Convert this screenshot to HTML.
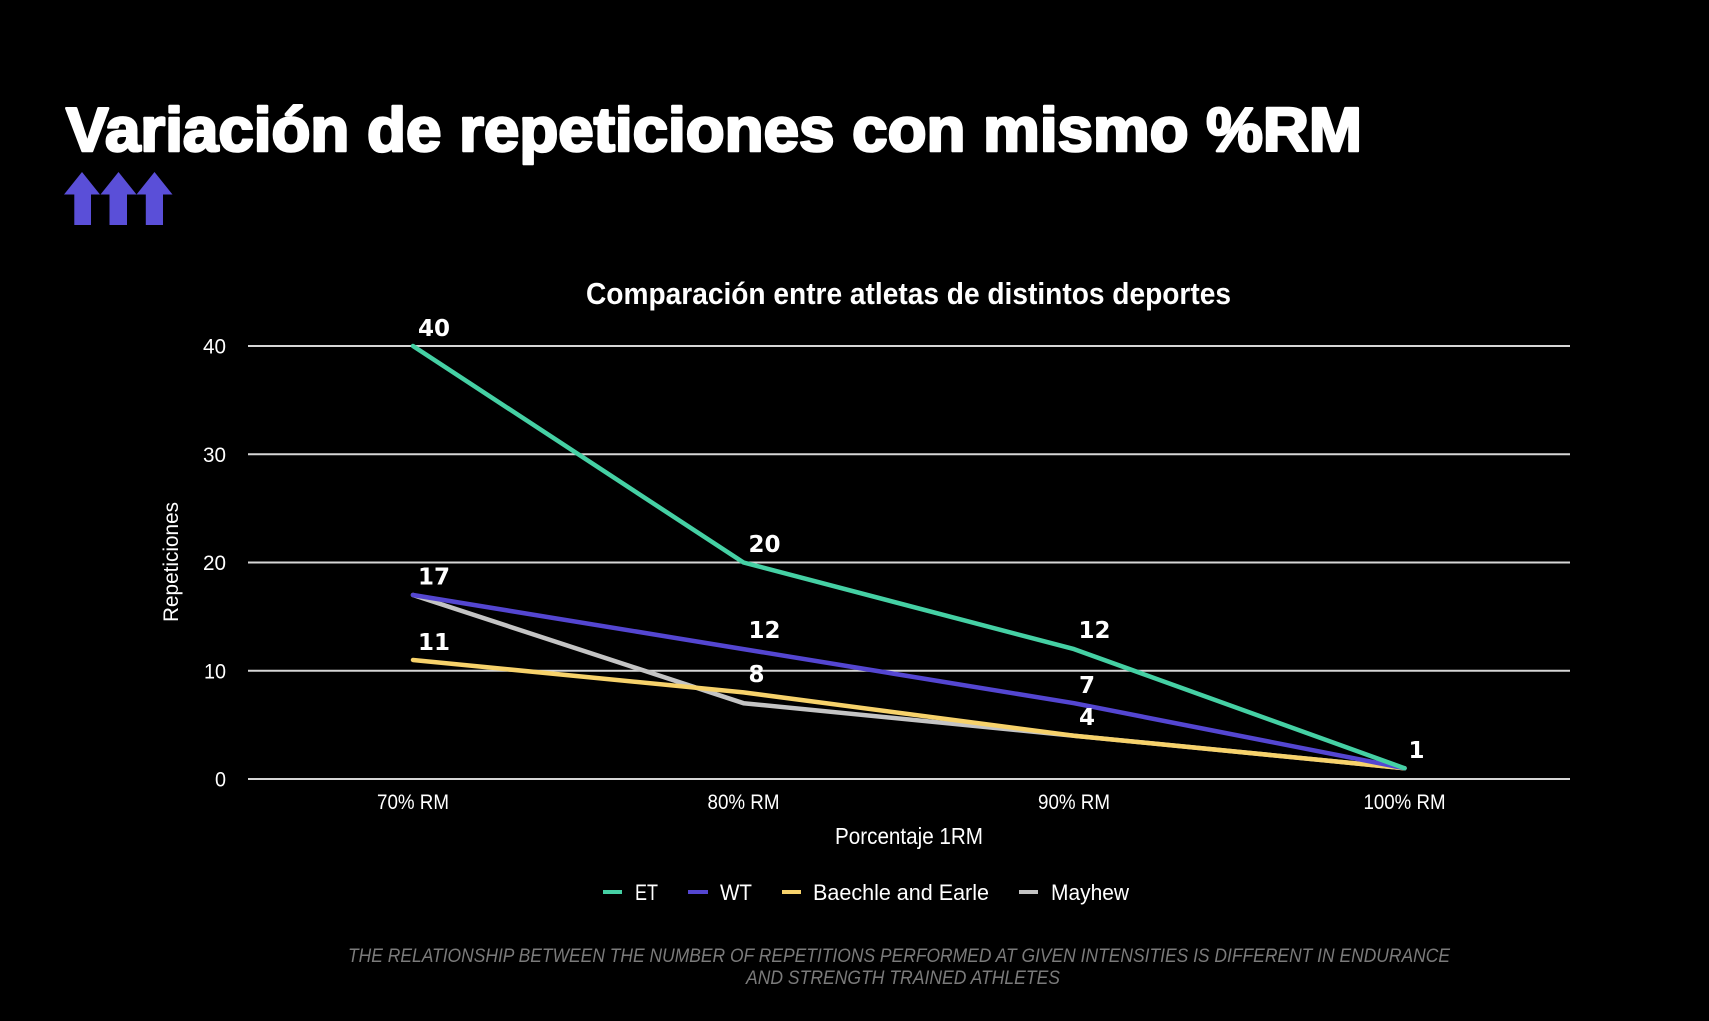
<!DOCTYPE html>
<html>
<head>
<meta charset="utf-8">
<style>
  html, body { margin: 0; padding: 0; background: #000; }
  body { width: 1709px; height: 1021px; overflow: hidden; }
  svg { display: block; }
</style>
</head>
<body>
<svg width="1709" height="1021" viewBox="0 0 1709 1021" xmlns="http://www.w3.org/2000/svg">
  <rect x="0" y="0" width="1709" height="1021" fill="#000"/>

  <!-- Main title -->
  <text x="66" y="151" font-family="'Liberation Sans', Arial, sans-serif" font-weight="bold" font-size="62" fill="#fff" stroke="#fff" stroke-width="2.6" stroke-linejoin="round" textLength="1296" lengthAdjust="spacingAndGlyphs">Variación de repeticiones con mismo %RM</text>

  <!-- Arrows -->
  <g fill="#5a4fd8">
    <polygon points="64,194.5 82,172 100,194.5 91,194.5 91,225 74.3,225 74.3,194.5"/>
    <polygon points="100.5,194.5 118.5,172 136.5,194.5 127,194.5 127,225 109.5,225 109.5,194.5"/>
    <polygon points="136.5,194.5 154.5,172 172.5,194.5 163,194.5 163,225 145.8,225 145.8,194.5"/>
  </g>

  <!-- Chart title -->
  <text x="586" y="304" font-family="'Liberation Sans', Arial, sans-serif" font-weight="bold" font-size="31" fill="#fff" textLength="645" lengthAdjust="spacingAndGlyphs">Comparación entre atletas de distintos deportes</text>

  <!-- Gridlines -->
  <g stroke="#d6d6d6" stroke-width="2">
    <line x1="248" y1="346" x2="1570" y2="346"/>
    <line x1="248" y1="454.3" x2="1570" y2="454.3"/>
    <line x1="248" y1="562.5" x2="1570" y2="562.5"/>
    <line x1="248" y1="670.8" x2="1570" y2="670.8"/>
    <line x1="248" y1="779" x2="1570" y2="779"/>
  </g>

  <!-- Y tick labels -->
  <g font-family="'Liberation Sans', Arial, sans-serif" font-size="21" fill="#fff" text-anchor="end">
    <text x="226" y="353.5" textLength="23" lengthAdjust="spacingAndGlyphs">40</text>
    <text x="226" y="461.8" textLength="23" lengthAdjust="spacingAndGlyphs">30</text>
    <text x="226" y="570" textLength="23" lengthAdjust="spacingAndGlyphs">20</text>
    <text x="226" y="678.3" textLength="22" lengthAdjust="spacingAndGlyphs">10</text>
    <text x="226" y="786.5" textLength="11" lengthAdjust="spacingAndGlyphs">0</text>
  </g>

  <!-- Y axis title -->
  <text transform="translate(178,562) rotate(-90)" x="0" y="0" text-anchor="middle" font-family="'Liberation Sans', Arial, sans-serif" font-size="21" fill="#fff" textLength="120" lengthAdjust="spacingAndGlyphs">Repeticiones</text>

  <!-- X tick labels -->
  <g font-family="'Liberation Sans', Arial, sans-serif" font-size="21" fill="#fff" text-anchor="middle">
    <text x="413" y="809" textLength="72" lengthAdjust="spacingAndGlyphs">70% RM</text>
    <text x="743.5" y="809" textLength="72" lengthAdjust="spacingAndGlyphs">80% RM</text>
    <text x="1074" y="809" textLength="72" lengthAdjust="spacingAndGlyphs">90% RM</text>
    <text x="1404.5" y="809" textLength="82" lengthAdjust="spacingAndGlyphs">100% RM</text>
  </g>

  <!-- X axis title -->
  <text x="835" y="844" font-family="'Liberation Sans', Arial, sans-serif" font-size="23" fill="#fff" textLength="148" lengthAdjust="spacingAndGlyphs">Porcentaje 1RM</text>

  <!-- Series (drawn reversed so ET on top) -->
  <g fill="none" stroke-width="4.5" stroke-linejoin="round" stroke-linecap="round">
    <polyline stroke="#c4c4c4" points="413,595 743.5,703.2 1074,735.7 1404.5,768.2"/>
    <polyline stroke="#f7d26b" points="413,660 743.5,692.4 1074,735.7 1404.5,768.2"/>
    <polyline stroke="#5446d1" points="413,595 743.5,649.1 1074,703.2 1404.5,768.2"/>
    <polyline stroke="#45d0a4" points="413,346 743.5,562.5 1074,649.1 1404.5,768.2"/>
  </g>

  <!-- Data labels -->
  <g font-family="'DejaVu Sans', 'Liberation Sans', sans-serif" font-weight="bold" font-size="23" fill="#fff">
    <text x="418" y="336">40</text>
    <text x="418" y="584.5">17</text>
    <text x="418" y="650">11</text>
    <text x="748.5" y="552">20</text>
    <text x="748.5" y="638">12</text>
    <text x="748.5" y="682">8</text>
    <text x="1078.5" y="638">12</text>
    <text x="1079" y="693">7</text>
    <text x="1079" y="725">4</text>
    <text x="1408.5" y="758">1</text>
  </g>

  <!-- Legend -->
  <g stroke-width="4">
    <line x1="603" y1="892" x2="622" y2="892" stroke="#45d0a4"/>
    <line x1="688" y1="892" x2="708" y2="892" stroke="#5446d1"/>
    <line x1="782" y1="892" x2="801" y2="892" stroke="#f7d26b"/>
    <line x1="1019" y1="892" x2="1038" y2="892" stroke="#c4c4c4"/>
  </g>
  <g font-family="'Liberation Sans', Arial, sans-serif" font-size="22" fill="#fff">
    <text x="635" y="900" textLength="23" lengthAdjust="spacingAndGlyphs">ET</text>
    <text x="720" y="900" textLength="32" lengthAdjust="spacingAndGlyphs">WT</text>
    <text x="813" y="900" textLength="176" lengthAdjust="spacingAndGlyphs">Baechle and Earle</text>
    <text x="1051" y="900" textLength="78" lengthAdjust="spacingAndGlyphs">Mayhew</text>
  </g>

  <!-- Footer -->
  <g font-family="'Liberation Sans', Arial, sans-serif" font-style="italic" font-size="19.5" fill="#7b7b7b">
    <text x="348" y="962" textLength="1102" lengthAdjust="spacingAndGlyphs">THE RELATIONSHIP BETWEEN THE NUMBER OF REPETITIONS PERFORMED AT GIVEN INTENSITIES IS DIFFERENT IN ENDURANCE</text>
    <text x="746" y="984" textLength="314" lengthAdjust="spacingAndGlyphs">AND STRENGTH TRAINED ATHLETES</text>
  </g>
</svg>
</body>
</html>
